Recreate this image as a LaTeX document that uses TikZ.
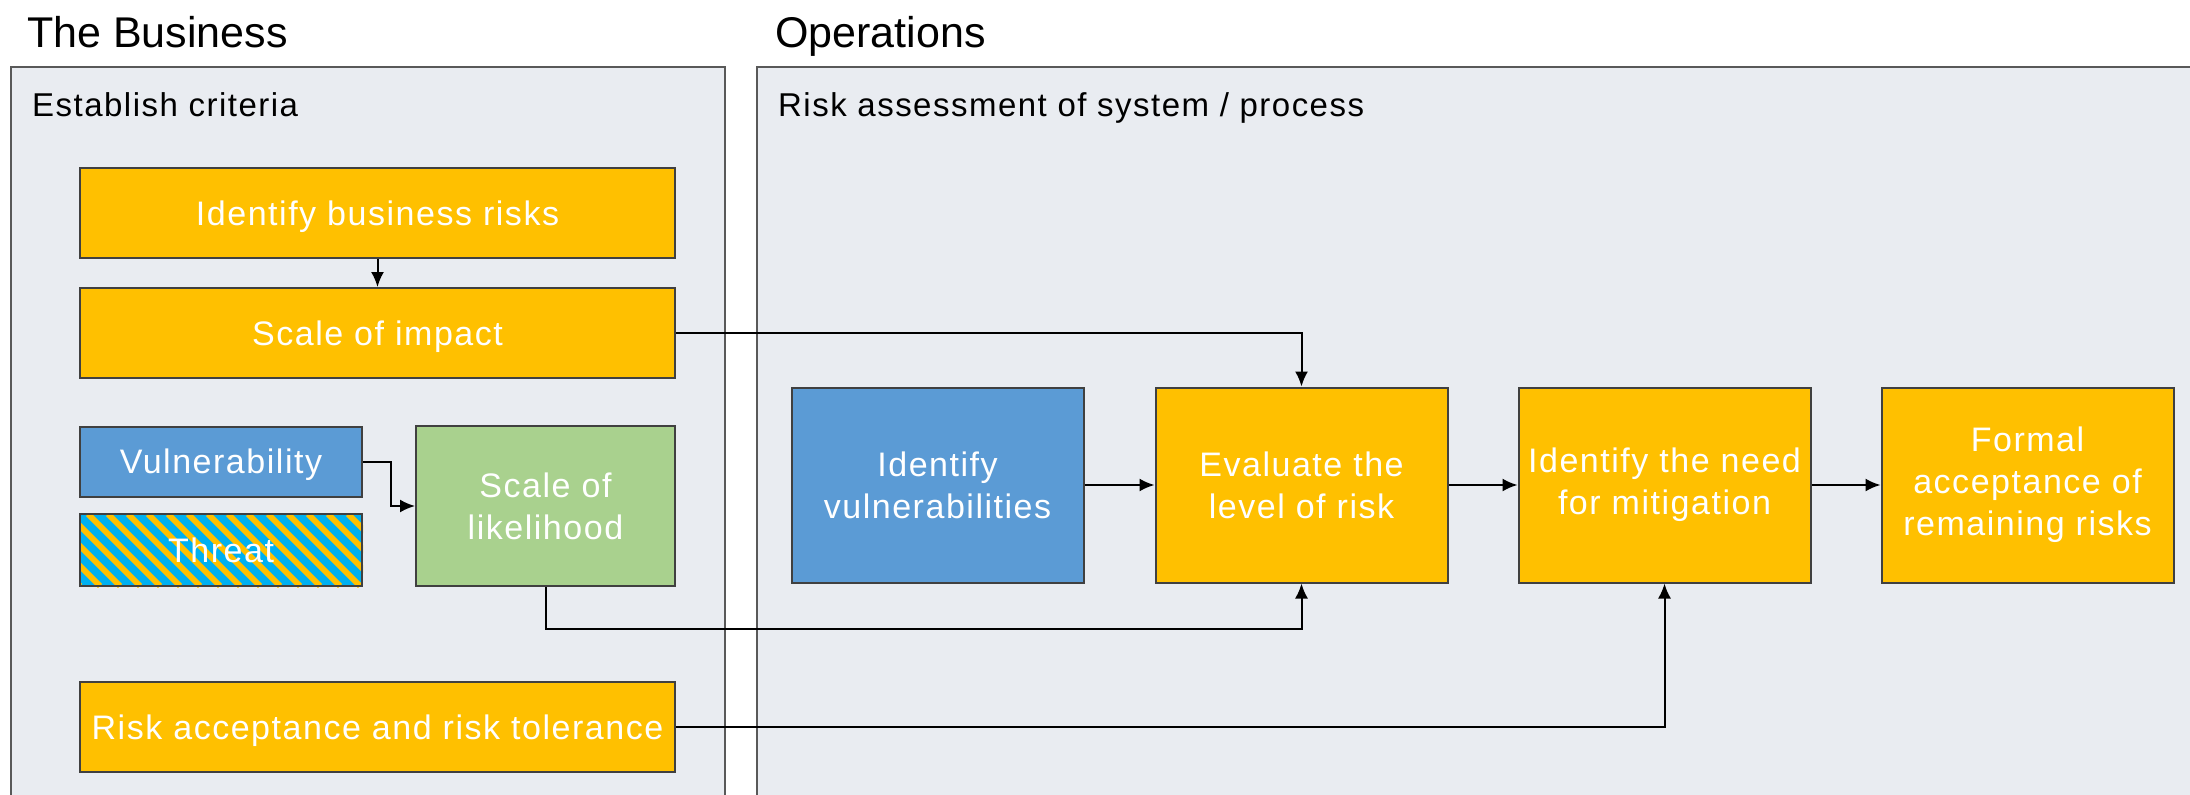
\documentclass[tikz,border=0pt]{standalone}
\usepackage{fontspec}
\setmainfont{Liberation Sans}
\newfontfamily\spacedfont[LetterSpace=4.5]{Liberation Sans}
\usepackage{tikz}
\usetikzlibrary{arrows.meta}
\definecolor{riskorange}{HTML}{FFC000}
\definecolor{riskblue}{HTML}{5B9BD5}
\definecolor{riskgreen}{HTML}{A9D18E}
\definecolor{threatblue}{HTML}{00B0F0}
\definecolor{lanefill}{HTML}{E9ECF1}
\definecolor{laneline}{HTML}{595959}
\definecolor{boxline}{HTML}{404040}

\begin{document}
\begin{tikzpicture} [
                x=1pt, y=-1pt,
                lane/.style = {draw=laneline, line width=1.5pt, fill=lanefill},
                title/.style = {anchor=base west, inner sep=0pt, font=\fontsize{43}{50}\selectfont},
                lane label/.style = {anchor=base west, inner sep=0pt, font=\spacedfont\fontsize{33}{40}\selectfont},
                box/.style = {draw=boxline, line width=2pt, text=white, inner sep=0pt, align=center,
                              font=\spacedfont\fontsize{34}{42}\selectfont},
                one line/.style = {text height=24pt, text depth=0pt},
                orange box/.style = {box, fill=riskorange},
                blue box/.style = {box, fill=riskblue},
                green box/.style = {box, fill=riskgreen},
                edge/.style = {draw, line width=2pt, -{Latex[length=15pt,width=13pt]}}
            ]
        \useasboundingbox (0,0) rectangle (2190,795);
        % First we draw the two lanes
            \path[lane] (11,67) rectangle (725,810);
            \path[lane] (757,67) rectangle (2210,810);
            \node[title] (business) at (27,47) {The Business};
            \node[title] (operations) at (775,47) {Operations};
            \node[lane label] (criteria) at (32,116) {Establish criteria};
            \node[lane label] (assessment) at (778,116) {Risk assessment of system / process};
        % Boxes of the business lane
            \node[orange box, one line, minimum width=595pt, minimum height=90pt] (ibr) at (377.5,213) {Identify business risks};
            \node[orange box, one line, minimum width=595pt, minimum height=90pt] (soi) at (377.5,333) {Scale of impact};
            \node[blue box, one line, minimum width=282pt, minimum height=70pt] (vul) at (221,461.5) {Vulnerability};
            \node[box, minimum width=282pt, minimum height=72pt, fill=threatblue] (thr) at (221,550) {};
            \begin{scope}
                \clip (thr.south west) rectangle (thr.north east);
                \foreach \x in {-12,8,...,380}
                    \draw[riskorange, line width=6pt] (\x,514) -- ++(72,72);
            \end{scope}
            \node[box, one line, minimum width=282pt, minimum height=72pt, fill=none] at (thr) {Threat};
            \node[green box, minimum width=259pt, minimum height=160pt] (sol) at (545.5,506) {Scale of\\likelihood};
            \node[orange box, one line, minimum width=595pt, minimum height=90pt] (rat) at (377.5,727) {Risk acceptance and risk tolerance};
        % Boxes of the operations lane
            \foreach \pos/\name/\colour/\txt in {
                {(937.5,485)/ivu/blue/{Identify\\vulnerabilities}},
                {(1301.5,485)/elr/orange/{Evaluate the\\level of risk}},
                {(1664.5,485)/inm/orange/{Identify the need\\for mitigation}},
                {(2027.5,485)/fac/orange/{Formal\\acceptance of\\remaining risks}}}
            \node[\colour\space box, minimum width=292pt, minimum height=195pt] (\name) at \pos {\txt};
        % Connect boxes with edges
            \path[edge] (ibr) -- (soi);
            \path[edge] (soi.east) -| (elr.north);
            \path[edge] (vul.east) -- ++(28,0) |- (sol.west);
            \path[edge] (sol.south) -- ++(0,42) -| (elr.south);
            \path[edge] (rat.east) -| (inm.south);
            \foreach \source/ \dest in {
            ivu/elr, elr/inm, inm/fac}
            \path[edge] (\source) -- (\dest);
        \end{tikzpicture}
\end{document}
